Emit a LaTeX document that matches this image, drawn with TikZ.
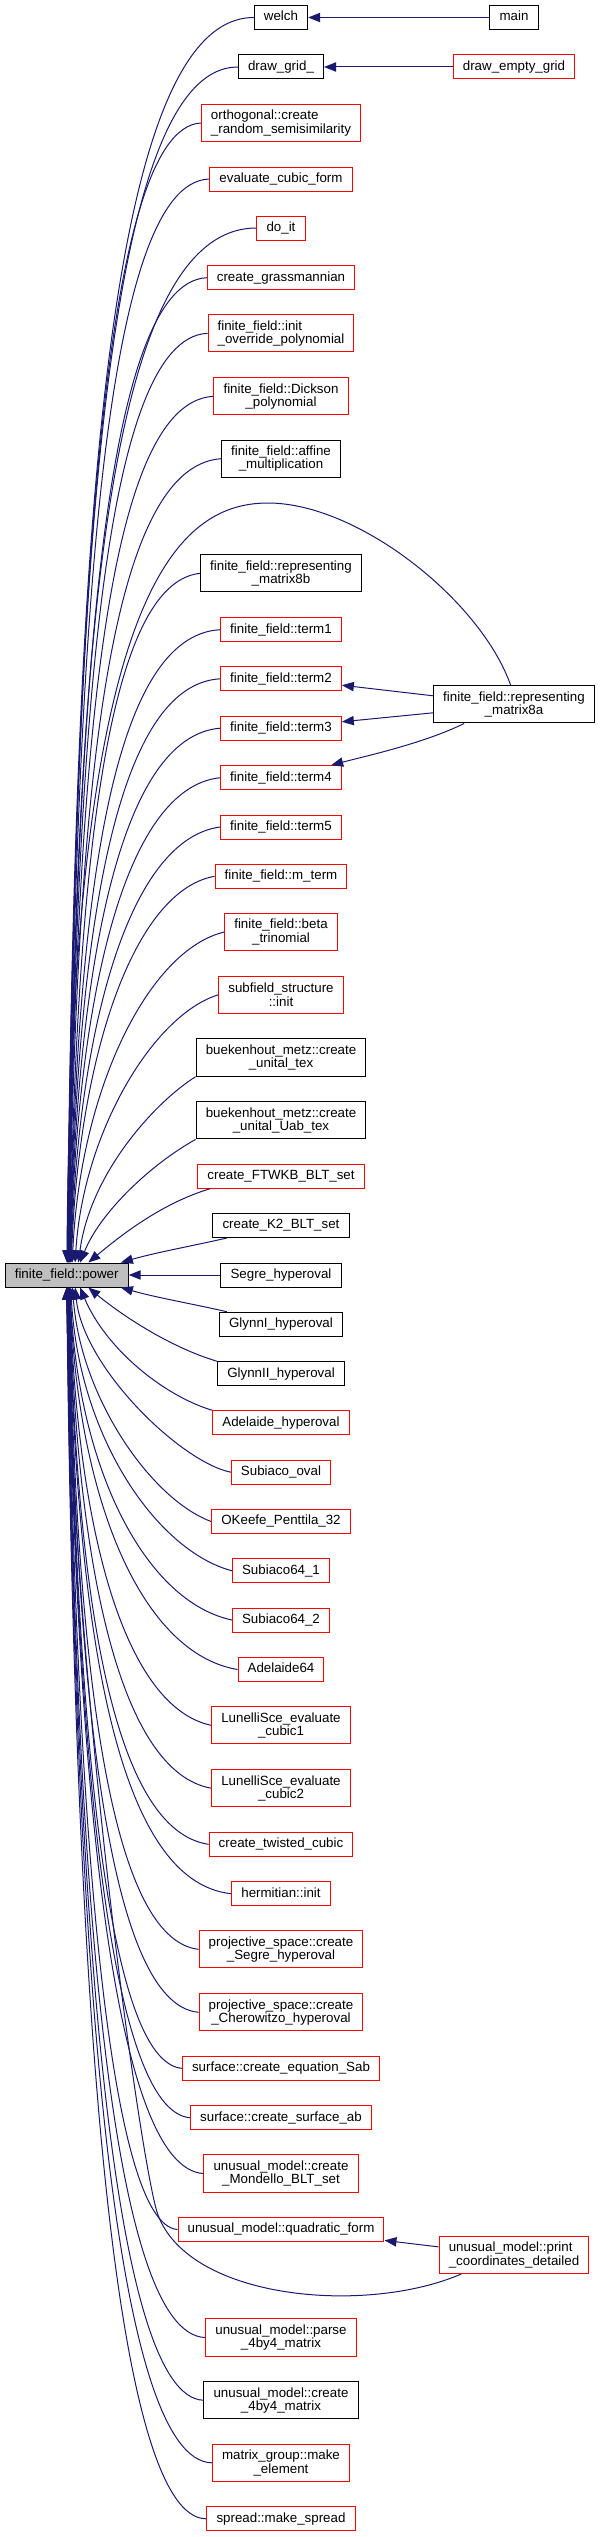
\documentclass[tikz,border=0pt]{standalone}
\usepackage{fontspec}
\setmainfont{Liberation Sans}
\usetikzlibrary{arrows.meta}
\definecolor{edge}{HTML}{191970}
\definecolor{boxred}{HTML}{FF0000}
\definecolor{boxgrey}{HTML}{BFBFBF}
\tikzset{
  base/.style={draw=black,fill=white,line width=.75pt,inner xsep=7.2pt,inner ysep=0pt,font=\fontsize{10}{10}\selectfont,align=center},
  box/.style={base,minimum height=18pt,text height=7.3pt,text depth=2.2pt},
  tbox/.style={base,minimum height=28pt},
  nodoc/.style={draw=boxred},
  call/.style={draw=edge,line width=.75pt,-{Triangle[length=9pt,width=7pt]}}
}
\begin{document}
\begin{tikzpicture}[x=.75pt,y=-.75pt]
\useasboundingbox (0,0) rectangle (603,2537);
\node[box,fill=boxgrey] (power) at (66.7,1275) {finite\_field::power};
\node[box] (welch) at (281,17.5) {welch};\node[box] (main) at (514,17.5) {main};
\node[box] (drawgrid) at (281,67) {draw\_grid\_};\node[box,nodoc] (emptygrid) at (514,67) {draw\_empty\_grid};
\node[tbox,nodoc,align=left] (ortho) at (281,123) {orthogonal::create\\\_random\_semisimilarity};
\node[box,nodoc] (evalcubic) at (281,179) {evaluate\_cubic\_form};
\node[box,nodoc] (doit) at (281,228) {do\_it};
\node[box,nodoc] (grass) at (281,277.7) {create\_grassmannian};
\node[tbox,nodoc,align=left] (initover) at (281,333.3) {finite\_field::init\\\_override\_polynomial};
\node[tbox,nodoc] (dickson) at (281,396.3) {finite\_field::Dickson\\\_polynomial};
\node[tbox] (affine) at (281,458.7) {finite\_field::affine\\\_multiplication};
\node[tbox] (rep8b) at (281,573.3) {finite\_field::representing\\\_matrix8b};
\node[box,nodoc] (term1) at (281,629.7) {finite\_field::term1};
\node[box,nodoc] (term2) at (281,678.8) {finite\_field::term2};
\node[box,nodoc] (term3) at (281,728.2) {finite\_field::term3};
\node[box,nodoc] (term4) at (281,777.7) {finite\_field::term4};
\node[box,nodoc] (term5) at (281,827) {finite\_field::term5};
\node[tbox] (rep8a) at (514,704.3) {finite\_field::representing\\\_matrix8a};
\node[box,nodoc] (mterm) at (281,876.3) {finite\_field::m\_term};
\node[tbox,nodoc] (beta) at (281,932) {finite\_field::beta\\\_trinomial};
\node[tbox,nodoc] (subfield) at (281,994.8) {subfield\_structure\\::init};
\node[tbox] (bmtex) at (281,1057.5) {buekenhout\_metz::create\\\_unital\_tex};
\node[tbox] (bmuab) at (281,1120.2) {buekenhout\_metz::create\\\_unital\_Uab\_tex};
\node[box,nodoc] (ftwkb) at (281,1176.2) {create\_FTWKB\_BLT\_set};
\node[box] (k2) at (281,1225.5) {create\_K2\_BLT\_set};
\node[box] (segre) at (281,1275) {Segre\_hyperoval};
\node[box] (glynn1) at (281,1324.2) {GlynnI\_hyperoval};
\node[box] (glynn2) at (281,1373.8) {GlynnII\_hyperoval};
\node[box,nodoc] (adelhyp) at (281,1422.8) {Adelaide\_hyperoval};
\node[box,nodoc] (subo) at (281,1472.2) {Subiaco\_oval};
\node[box,nodoc] (okeefe) at (281,1521.5) {OKeefe\_Penttila\_32};
\node[box,nodoc] (suba) at (281,1570.8) {Subiaco64\_1};
\node[box,nodoc] (subb) at (281,1620) {Subiaco64\_2};
\node[box,nodoc] (adel64) at (281,1669.5) {Adelaide64};
\node[tbox,nodoc] (lun1) at (281,1725.3) {LunelliSce\_evaluate\\\_cubic1};
\node[tbox,nodoc] (lun2) at (281,1788.2) {LunelliSce\_evaluate\\\_cubic2};
\node[box,nodoc] (twisted) at (281,1844.3) {create\_twisted\_cubic};
\node[box,nodoc] (herm) at (281,1893.7) {hermitian::init};
\node[tbox,nodoc] (psegre) at (281,1949.3) {projective\_space::create\\\_Segre\_hyperoval};
\node[tbox,nodoc] (pcher) at (281,2012.3) {projective\_space::create\\\_Cherowitzo\_hyperoval};
\node[box,nodoc] (eqsab) at (281,2068.3) {surface::create\_equation\_Sab};
\node[box,nodoc] (surfab) at (281,2117.7) {surface::create\_surface\_ab};
\node[tbox,nodoc] (mondello) at (281,2173.5) {unusual\_model::create\\\_Mondello\_BLT\_set};
\node[box,nodoc] (quadform) at (281,2229.5) {unusual\_model::quadratic\_form};
\node[tbox,nodoc,align=left] (pcd) at (514,2254.8) {unusual\_model::print\\\_coordinates\_detailed};
\node[tbox,nodoc] (parse) at (281,2337.5) {unusual\_model::parse\\\_4by4\_matrix};
\node[tbox] (create4) at (281,2400.2) {unusual\_model::create\\\_4by4\_matrix};
\node[tbox,nodoc] (makeel) at (281,2462.8) {matrix\_group::make\\\_element};
\node[box,nodoc] (spread) at (281,2518.8) {spread::make\_spread};
\coordinate (peak) at (268,503);\coordinate (pcdturn) at (158,2215);
\draw[call] (main) -- (welch);\draw[call] (emptygrid) -- (drawgrid);\draw[call] (segre) -- (power);
\draw[call] (rep8a.174) -- (term2.354);\draw[call] (rep8a.186) -- (term3.6);
\draw[call] (rep8a.201) .. controls +(-40,20) and +(30,-8) .. (term4.14);
\draw[call] (pcd.174) -- (quadform.354);
\foreach \n/\a/\c/\h/\e in {welch/150/0/-710/88,drawgrid/135/0/-680/87,ortho/100/5/-650/86,evalcubic/108/3/-620/85,doit/155/0/-590/84,grass/105/5/-560/83,initover/105/5/-530/82,dickson/110/6/-495/81,affine/115/8/-460/80,rep8b/95/10/-390/78,term1/110/6/-360/77,term2/105/6/-330/76,term3/100/8/-300/75,term4/95/10/-270/74,term5/90/12/-240/72,mterm/80/14/-210/70,beta/75/18/-175/66,subfield/65/20/-130/56}
  \draw[call] (\n.west) .. controls +(-\a,\c) and +(8,\h) .. (power.\e);
\foreach \n/\a/\c/\h/\e in {subo/50/-10/80/304,okeefe/60/-22/110/295,suba/75/-20/150/288,subb/85/-18/185/285,adel64/95/-16/215/284,lun1/85/-18/250/283,lun2/90/-16/285/282,twisted/95/-14/315/281,herm/115/-12/345/280,psegre/90/-10/375/279,pcher/90/-8/410/278,eqsab/75/-6/440/277,surfab/80/-6/470/276,mondello/90/-5/500/275,quadform/70/-5/530/274,parse/95/-3/600/273,create4/92/-3/630/272,makeel/100/-2/670/271,spread/95/0/700/270}
  \draw[call] (\n.west) .. controls +(-\a,\c) and +(8,\h) .. (power.\e);
\draw[call] (bmtex.south west) .. controls +(-40,25) and +(12,-90) .. (power.47);
\draw[call] (bmuab.south west) .. controls +(-45,25) and +(20,-50) .. (power.43);
\draw[call] (ftwkb.190) .. controls +(-50,15) and +(30,-25) .. (power.30);
\draw[call] (k2.193) .. controls +(-35,8) and +(35,-10) .. (power.13);
\draw[call] (glynn1.167) .. controls +(-35,-8) and +(35,10) .. (power.347);
\draw[call] (glynn2.north west) .. controls +(-50,-15) and +(30,25) .. (power.330);
\draw[call] (adelhyp.north west) .. controls +(-50,-15) and +(25,60) .. (power.317);
\draw[call] (rep8a.100) .. controls +(-30,-85) and +(90,0) .. (peak) .. controls +(-100,0) and +(5,-650) .. (power.89);
\draw[call] (pcd.200) .. controls +(-95,41) and +(32,85) .. (pcdturn) .. controls +(-16,-43) and +(8,413) .. (power.269);
\end{tikzpicture}
\end{document}
